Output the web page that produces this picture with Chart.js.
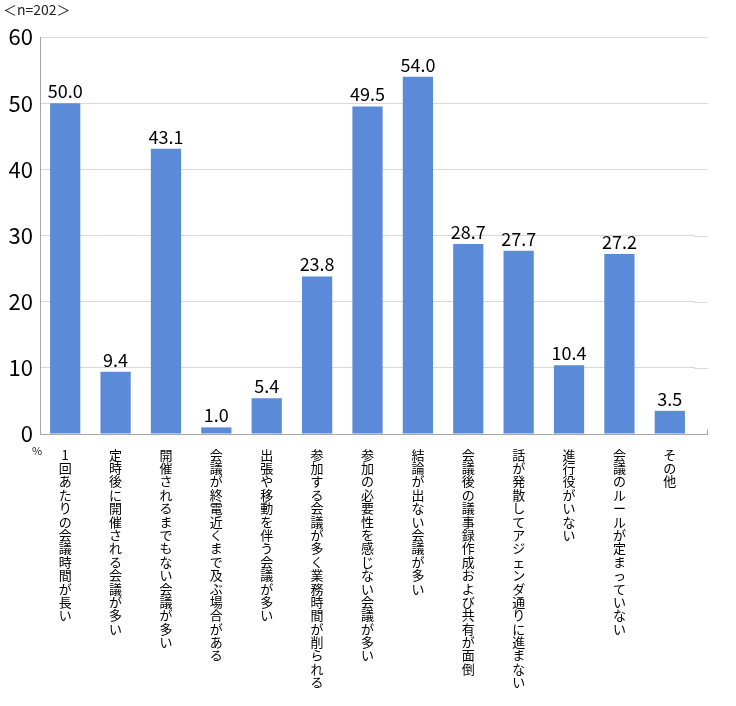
<!DOCTYPE html>
<html>
<head>
<meta charset="utf-8">
<script src="https://cdn.jsdelivr.net/npm/chart.js@4.4.0/dist/chart.umd.min.js"></script>
<style>
  body { margin: 0; background: #fff; }
  #caja { width: 736px; height: 706px; }
</style>
</head>
<body>
<div id="caja"><canvas id="grafico" width="736" height="706"></canvas></div>
<script>
// categorias del eje x (texto vertical, un caracter por linea)
var categorias = [
  '1回あたりの会議時間が長い',
  '定時後に開催される会議が多い',
  '開催されるまでもない会議が多い',
  '会議が終電近くまで及ぶ場合がある',
  '出張や移動を伴う会議が多い',
  '参加する会議が多く業務時間が削られる',
  '参加の必要性を感じない会議が多い',
  '結論が出ない会議が多い',
  '会議後の議事録作成および共有が面倒',
  '話が発散してアジェンダ通りに進まない',
  '進行役がいない',
  '会議のルールが定まっていない',
  'その他'
];
var valores = [50.0, 9.4, 43.1, 1.0, 5.4, 23.8, 49.5, 54.0, 28.7, 27.7, 10.4, 27.2, 3.5];
var ticksY = [0, 10, 20, 30, 40, 50, 60];
var muestra = '＜n=202＞';
var unidad = '%';

var fuente = "'Noto Sans CJK JP', 'Noto Sans', sans-serif";
var colorGrid = '#d9d9d9';
var colorEje = '#a6a6a6';

// etiquetas verticales: cada caracter en su propia linea
var etiquetas = categorias.map(function (c) { return Array.from(c); });

// las lineas horizontales del original siguen un poco mas a la derecha que la ultima barra
var pluginExtension = {
  id: 'extension',
  beforeDatasetsDraw: function (chart) {
    var ctx = chart.ctx;
    var area = chart.chartArea;
    var escalaY = chart.scales.y;
    var fin = area.right + 13;
    ctx.save();
    ctx.lineWidth = 1;
    ticksY.forEach(function (v) {
      var y = Math.round(escalaY.getPixelForValue(v)) + 0.5;
      ctx.strokeStyle = v === 0 ? colorEje : colorGrid;
      ctx.beginPath();
      ctx.moveTo(area.right - 1, y);
      ctx.lineTo(fin, y);
      ctx.stroke();
    });
    // marquita al final del eje x
    var y0 = Math.round(escalaY.getPixelForValue(0)) + 0.5;
    ctx.strokeStyle = colorEje;
    ctx.beginPath();
    ctx.moveTo(fin - 0.5, y0);
    ctx.lineTo(fin - 0.5, y0 - 5);
    ctx.stroke();
    ctx.restore();
  }
};

// numeros encima de cada barra + textos sueltos
var pluginTextos = {
  id: 'textos',
  afterDatasetsDraw: function (chart) {
    var ctx = chart.ctx;
    var meta = chart.getDatasetMeta(0);
    ctx.save();
    ctx.fillStyle = '#000';
    ctx.font = '18px ' + fuente;
    ctx.textAlign = 'center';
    ctx.textBaseline = 'bottom';
    meta.data.forEach(function (barra, i) {
      ctx.fillText(valores[i].toFixed(1), barra.x, barra.y - 3);
    });
    // n= arriba a la izquierda
    ctx.font = '14px ' + fuente;
    ctx.textAlign = 'left';
    ctx.textBaseline = 'middle';
    ctx.fillStyle = '#222';
    ctx.fillText(muestra, 3, 10);
    // % debajo del cero
    ctx.font = '11px ' + fuente;
    ctx.textAlign = 'center';
    ctx.fillText(unidad, chart.chartArea.left - 3, chart.chartArea.bottom + 17);
    ctx.restore();
  }
};

var grafico = new Chart(document.getElementById('grafico').getContext('2d'), {
  type: 'bar',
  data: {
    labels: etiquetas,
    datasets: [{
      data: valores,
      backgroundColor: '#5b8bd8',
      borderWidth: 0,
      barPercentage: 0.6,
      categoryPercentage: 1.0
    }]
  },
  options: {
    responsive: false,
    animation: false,
    layout: { padding: { top: 37, right: 41, left: 0, bottom: 0 } },
    plugins: {
      legend: { display: false },
      tooltip: { enabled: false }
    },
    scales: {
      x: {
        grid: { display: false, drawTicks: false },
        border: { color: colorEje, width: 1 },
        ticks: {
          color: '#000',
          maxRotation: 0,
          minRotation: 0,
          autoSkip: false,
          padding: 14,
          font: { family: fuente, size: 13, lineHeight: 1.03 }
        },
        afterFit: function (escala) { escala.height = 272; }
      },
      y: {
        min: 0,
        max: 60,
        afterBuildTicks: function (escala) {
          escala.ticks = ticksY.map(function (v) { return { value: v }; });
        },
        grid: { color: colorGrid, drawTicks: false },
        border: { color: colorEje, width: 1 },
        ticks: {
          color: '#000',
          padding: 7,
          font: { family: fuente, size: 22 }
        },
        afterFit: function (escala) { escala.width = 40; }
      }
    }
  },
  plugins: [pluginExtension, pluginTextos]
});
</script>
</body>
</html>
